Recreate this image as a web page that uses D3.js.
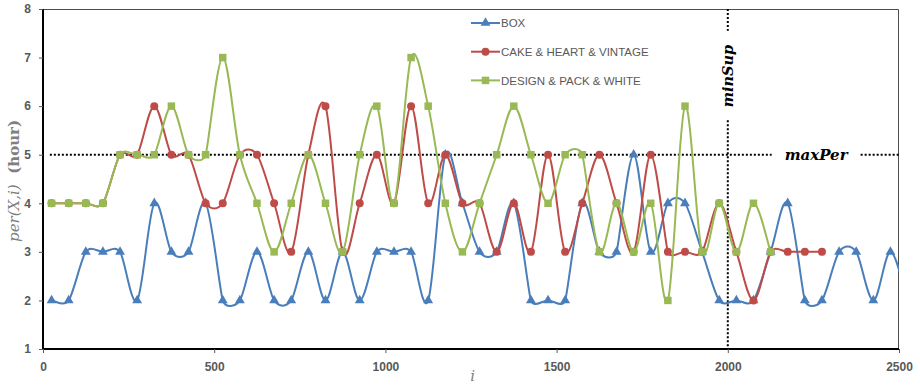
<!DOCTYPE html>
<html>
<head>
<meta charset="utf-8">
<script src="https://cdn.jsdelivr.net/npm/d3@7"></script>
<style>
  html, body { margin: 0; padding: 0; background: #fff; }
</style>
</head>
<body>
<div id="chart"></div>
<script>
// i positions (the last BOX point lies past the axis end and is clipped)
const iValues = [25, 75, 125, 175, 225, 275, 325, 375, 425, 475,
  525, 575, 625, 675, 725, 775, 825, 875, 925, 975,
  1025, 1075, 1125, 1175, 1225, 1275, 1325, 1375, 1425, 1475,
  1525, 1575, 1625, 1675, 1725, 1775, 1825, 1875, 1925, 1975,
  2025, 2075, 2125, 2175, 2225, 2275, 2325, 2375, 2425, 2475, 2525];

const seriesNames = ['BOX', 'CAKE & HEART & VINTAGE', 'DESIGN & PACK & WHITE'];

const boxValues = [2, 2, 3, 3, 3, 2, 4, 3, 3, 4,
  2, 2, 3, 2, 2, 3, 2, 3, 2, 3,
  3, 3, 2, 5, 4, 3, 3, 4, 2, 2,
  2, 4, 3, 3, 5, 3, 4, 4, 3, 2,
  2, 2, 3, 4, 2, 2, 3, 3, 2, 3, 2];

const cakeValues = [4, 4, 4, 4, 5, 5, 6, 5, 5, 4,
  4, 5, 5, 4, 3, 5, 6, 3, 4, 5,
  4, 6, 4, 5, 4, 4, 3, 4, 3, 5,
  3, 4, 5, 4, 3, 5, 3, 3, 3, 4,
  3, 2, 3, 3, 3, 3];

const designValues = [4, 4, 4, 4, 5, 5, 5, 6, 5, 5,
  7, 5, 4, 3, 4, 5, 4, 3, 5, 6,
  4, 7, 6, 4, 3, 4, 5, 6, 5, 4,
  5, 5, 3, 4, 3, 4, 2, 6, 3, 4,
  3, 4, 3];

const xTicks = [0, 500, 1000, 1500, 2000, 2500];
const yTicks = [1, 2, 3, 4, 5, 6, 7, 8];

const maxPer = 5;    // horizontal threshold
const minSup = 2000; // vertical threshold

// spreadsheet-style smoothed line: bezier with tangents (next - prev) / 6,
// each clamped to half of the shorter neighbouring segment
function smoothPath(pts) {
  const n = pts.length;
  const v = pts.map((p, i) => {
    const a = pts[Math.max(i - 1, 0)];
    const b = pts[Math.min(i + 1, n - 1)];
    let vx = (b[0] - a[0]) / 6;
    let vy = (b[1] - a[1]) / 6;
    const d1 = Math.hypot(p[0] - a[0], p[1] - a[1]) || Infinity;
    const d2 = Math.hypot(b[0] - p[0], b[1] - p[1]) || Infinity;
    const lim = Math.min(d1, d2) / 2;
    const len = Math.hypot(vx, vy);
    if (len > lim) { vx *= lim / len; vy *= lim / len; }
    return [vx, vy];
  });
  const path = d3.path();
  path.moveTo(pts[0][0], pts[0][1]);
  for (let i = 0; i < n - 1; i++) {
    path.bezierCurveTo(
      pts[i][0] + v[i][0], pts[i][1] + v[i][1],
      pts[i + 1][0] - v[i + 1][0], pts[i + 1][1] - v[i + 1][1],
      pts[i + 1][0], pts[i + 1][1],
    );
  }
  return path.toString();
}

function PeriodChart(containerId, {
  width = 920,
  height = 385,
  marginLeft = 43,
  marginRight = 21,
  marginTop = 9,
  marginBottom = 36,
  colors = ['#4a7ebb', '#be4b48', '#98b954'],
  symbols = [d3.symbolTriangle, d3.symbolCircle, d3.symbolSquare],
  symbolSizes = [42, 50, 56],
} = {}) {
  const x = d3.scaleLinear([0, 2500], [marginLeft, width - marginRight]);
  const y = d3.scaleLinear([1, 8], [height - marginBottom, marginTop]);

  const series = [boxValues, cakeValues, designValues].map((vals, k) => ({
    name: seriesNames[k],
    points: vals.map((v, i) => ({ i: iValues[i], v })),
  }));

  const svg = d3.select(`#${containerId}`)
    .append('svg')
    .attr('width', width)
    .attr('height', height)
    .attr('viewBox', [0, 0, width, height])
    .style('display', 'block');

  svg.append('defs').append('clipPath')
    .attr('id', 'plot-clip')
    .append('rect')
    .attr('x', marginLeft)
    .attr('y', marginTop - 6)
    .attr('width', width - marginRight - marginLeft)
    .attr('height', height - marginBottom - marginTop + 12);

  // frame (top and right)
  svg.append('path')
    .attr('fill', 'none')
    .attr('stroke', '#4d4d4d')
    .attr('stroke-width', 1)
    .attr('d', `M${marginLeft},${marginTop + 0.5}H${width - marginRight - 0.5}V${height - marginBottom}`);

  // threshold lines
  const dotted = svg.append('g')
    .attr('stroke', '#000')
    .attr('stroke-width', 2)
    .attr('stroke-dasharray', '2,2');

  dotted.append('line')
    .attr('x1', x(20)).attr('x2', x(2128))
    .attr('y1', y(maxPer)).attr('y2', y(maxPer));
  dotted.append('line')
    .attr('x1', x(2388)).attr('x2', x(2500))
    .attr('y1', y(maxPer)).attr('y2', y(maxPer));
  dotted.append('line')
    .attr('x1', x(minSup)).attr('x2', x(minSup))
    .attr('y1', y(8)).attr('y2', y(7.55));
  dotted.append('line')
    .attr('x1', x(minSup)).attr('x2', x(minSup))
    .attr('y1', y(5.71)).attr('y2', y(1));

  svg.append('text')
    .attr('x', x(2258))
    .attr('y', y(maxPer))
    .attr('dy', '0.32em')
    .attr('text-anchor', 'middle')
    .attr('font-family', 'DejaVu Serif')
    .attr('font-style', 'italic')
    .attr('font-weight', 'bold')
    .attr('font-size', 15)
    .text('maxPer');

  svg.append('text')
    .attr('transform', `translate(${x(minSup)},${y(6.62)}) rotate(-90)`)
    .attr('dy', '0.35em')
    .attr('text-anchor', 'middle')
    .attr('font-family', 'DejaVu Serif')
    .attr('font-style', 'italic')
    .attr('font-weight', 'bold')
    .attr('font-size', 14.5)
    .text('minSup');

  // series
  const plot = svg.append('g').attr('clip-path', 'url(#plot-clip)');

  series.forEach((s, k) => {
    const g = plot.append('g');
    g.append('path')
      .attr('fill', 'none')
      .attr('stroke', colors[k])
      .attr('stroke-width', 2)
      .attr('d', smoothPath(s.points.map((d) => [x(d.i), y(d.v)])));
    g.selectAll('path.marker')
      .data(s.points)
      .join('path')
      .attr('class', 'marker')
      .attr('fill', colors[k])
      .attr('transform', (d) => `translate(${x(d.i)},${y(d.v)})`)
      .attr('d', d3.symbol(symbols[k], symbolSizes[k]));
  });

  // axes
  const yAxis = svg.append('g')
    .attr('transform', `translate(${marginLeft},0)`)
    .call(d3.axisLeft(y).tickValues(yTicks).tickSize(4).tickPadding(8).tickFormat(d3.format('d')));
  const xAxis = svg.append('g')
    .attr('transform', `translate(0,${height - marginBottom})`)
    .call(d3.axisBottom(x).tickValues(xTicks).tickSize(4).tickPadding(9).tickFormat(d3.format('d')));

  [yAxis, xAxis].forEach((ax) => {
    ax.select('.domain').attr('stroke', '#000').attr('stroke-width', 2);
    ax.selectAll('.tick line').attr('stroke', '#595959');
    ax.selectAll('.tick text')
      .attr('fill', '#595959')
      .attr('font-family', 'Liberation Sans, Arial, sans-serif')
      .attr('font-weight', 'bold')
      .attr('font-size', 12);
  });
  yAxis.select('.domain').attr('d', `M0,${marginTop}V${height - marginBottom}`);
  xAxis.select('.domain').attr('d', `M${marginLeft},0H${width - marginRight}`);

  // axis titles
  const yTitle = svg.append('text')
    .attr('transform', `translate(14,${y(4.46)}) rotate(-90)`)
    .attr('dy', '0.35em')
    .attr('text-anchor', 'middle')
    .attr('fill', '#7f7f7f')
    .attr('font-family', 'DejaVu Serif')
    .attr('font-size', 15);
  yTitle.append('tspan').attr('font-style', 'italic').text('per(X,i)');
  yTitle.append('tspan').attr('font-weight', 'bold').text('\u00a0\u00a0(hour)');

  svg.append('text')
    .attr('x', x(1255))
    .attr('y', height - 4)
    .attr('text-anchor', 'middle')
    .attr('fill', '#7f7f7f')
    .attr('font-family', 'DejaVu Serif')
    .attr('font-style', 'italic')
    .attr('font-size', 15)
    .text('i');

  // legend
  const legend = svg.append('g')
    .attr('transform', 'translate(471,23)')
    .selectAll('g')
    .data(series)
    .join('g')
    .attr('transform', (d, k) => `translate(0,${k * 28.7})`);

  legend.append('line')
    .attr('x1', 0).attr('x2', 29)
    .attr('stroke', (d, k) => colors[k])
    .attr('stroke-width', 2);
  legend.append('path')
    .attr('transform', 'translate(14.5,0)')
    .attr('fill', (d, k) => colors[k])
    .attr('d', (d, k) => d3.symbol(symbols[k], symbolSizes[k])());
  legend.append('text')
    .attr('x', 30)
    .attr('dy', '0.36em')
    .attr('fill', '#595959')
    .attr('font-family', 'Liberation Sans, Arial, sans-serif')
    .attr('font-size', 11.5)
    .text((d) => d.name);
}

PeriodChart('chart');
</script>
</body>
</html>
